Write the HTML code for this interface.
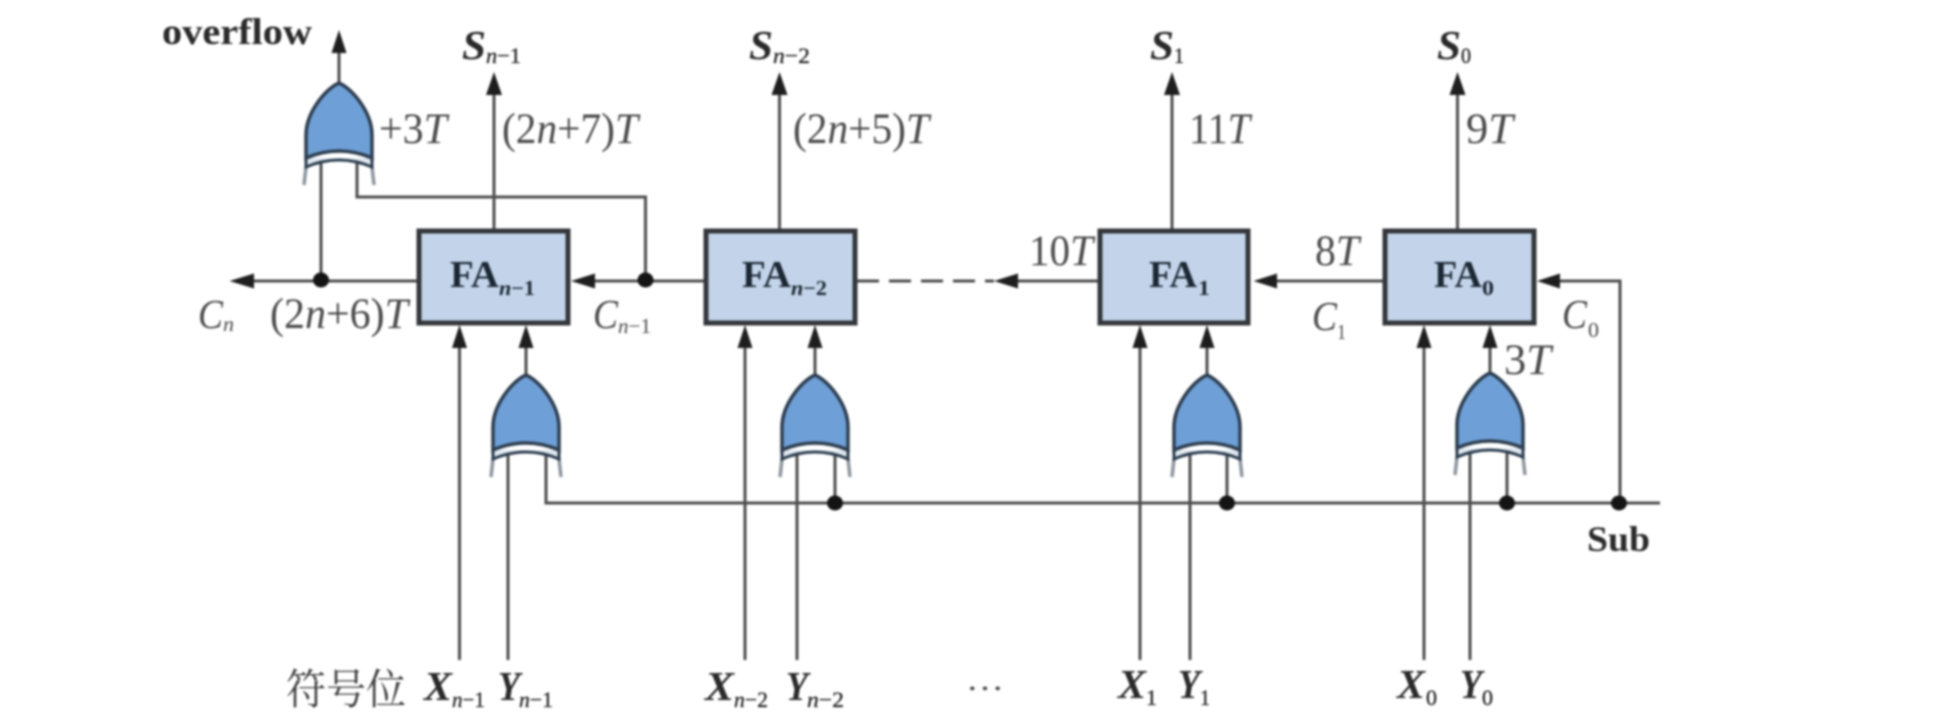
<!DOCTYPE html>
<html><head><meta charset="utf-8">
<style>
html,body{margin:0;padding:0;background:#fff;width:1948px;height:723px;overflow:hidden}
svg{display:block;filter:blur(1px)}
text{font-family:"Liberation Serif","Noto Serif CJK SC",serif}
.l{font-size:43px;fill:#4a4a4a}
.li{font-size:41px;fill:#4a4a4a;font-style:italic}
.s{font-size:21px;fill:#4a4a4a}
.b{font-size:38px;fill:#1c2733;font-weight:bold}
.bi{font-size:41px;fill:#2a2a2a;font-weight:bold;font-style:italic}
.bs{font-size:22px;fill:#222;stroke:#222;stroke-width:.3}
.w{fill:none;stroke:#4d4d4d;stroke-width:3}
.a{fill:#1e1e1e}
.box{fill:#c3d4ea;stroke:#33373b;stroke-width:5}
</style></head><body>
<svg width="1948" height="723" viewBox="0 0 1948 723" xmlns="http://www.w3.org/2000/svg">
<defs>
<g id="gate">
<path d="M-33,84 L-35,102 M33,84 L35,102" fill="none" stroke="#8d969f" stroke-width="3.5"/>
<path d="M-33,75 L-33,84 Q0,70 33,84 L33,75" fill="#dfe7ef" stroke="#2d3e50" stroke-width="3"/>
<path d="M0,0 C14,6 33,30 33,52 L33,75 Q0,61 -33,75 L-33,52 C-33,30 -14,6 0,0Z" fill="#6e9fd6" stroke="#2d3e50" stroke-width="3.5"/>
</g>
</defs>

<!-- wires -->
<path class="w" d="M339,83V45M321,160V281M357,160V197H645.5V281"/>
<path class="w" d="M419,281H245M706,281H585M494,230V85M779.5,230V85M1172,230V85M1457.5,230V85"/>
<path class="w" d="M1100,281H1010M1385,281H1268M1620,503V281H1550"/>
<path d="M857,281H994" fill="none" stroke="#4d4d4d" stroke-width="3" stroke-dasharray="22 10"/>
<path class="w" d="M546,453V503H1660"/>
<path class="w" d="M459.5,660V340M745,660V340M1140,660V340M1424,660V340"/>
<path class="w" d="M508,660V453M797,660V453M1190,660V453M1470,660V453"/>
<path class="w" d="M835,453V503M1227,453V503M1507,453V503"/>
<path class="w" d="M526,375V340M815,375V340M1207,375V340M1490,375V340"/>

<!-- gates -->
<use href="#gate" transform="translate(339,83)"/>
<use href="#gate" transform="translate(526,375)"/>
<use href="#gate" transform="translate(815,375)"/>
<use href="#gate" transform="translate(1207,375)"/>
<use href="#gate" transform="translate(1490,373)"/>

<!-- boxes -->
<rect class="box" x="419" y="231" width="149" height="92"/>
<rect class="box" x="706" y="231" width="149" height="92"/>
<rect class="box" x="1100" y="231" width="148" height="92"/>
<rect class="box" x="1385" y="231" width="149" height="92"/>

<!-- arrowheads up -->
<path class="a" d="M339,30L346.5,53H331.5ZM494,72L502,95H486ZM779.5,72L787.5,95H771.5ZM1172,72L1180,95H1164ZM1457.5,72L1465.5,95H1449.5Z"/>
<path class="a" d="M459.5,325L467,348H452ZM526,325L533.5,348H518.5ZM745,325L752.5,348H737.5ZM815,325L822.5,348H807.5ZM1140,325L1147.5,348H1132.5ZM1207,325L1214.5,348H1199.5ZM1424,325L1431.5,348H1416.5ZM1490,325L1497.5,348H1482.5Z"/>
<!-- arrowheads left -->
<path class="a" d="M229.5,281L254,273.5V288.5ZM571,281L595,273.5V288.5ZM994,281L1018,273.5V288.5ZM1253.5,281L1277,273.5V288.5ZM1537,281L1560,273.5V288.5Z"/>
<!-- dots -->
<g fill="#141414">
<ellipse cx="321" cy="280" rx="8" ry="7.5"/>
<ellipse cx="645.5" cy="280" rx="8" ry="7.5"/>
<ellipse cx="835" cy="503" rx="8" ry="7.5"/>
<ellipse cx="1227" cy="503" rx="8" ry="7.5"/>
<ellipse cx="1507" cy="503" rx="8" ry="7.5"/>
<ellipse cx="1619" cy="503" rx="8" ry="7.5"/>
</g>

<!-- top labels -->
<text x="162" y="44" font-size="37" font-weight="bold" fill="#2a2a2a" textLength="150" lengthAdjust="spacingAndGlyphs">overflow</text>
<text class="bi" x="462" y="59" textLength="24" lengthAdjust="spacingAndGlyphs">S</text>
<text class="bs" x="486" y="63" textLength="35" lengthAdjust="spacingAndGlyphs"><tspan font-style="italic">n</tspan>−1</text>
<text class="bi" x="749" y="59" textLength="24" lengthAdjust="spacingAndGlyphs">S</text>
<text class="bs" x="773" y="63" textLength="37" lengthAdjust="spacingAndGlyphs"><tspan font-style="italic">n</tspan>−2</text>
<text class="bi" x="1150" y="59" textLength="24" lengthAdjust="spacingAndGlyphs">S</text>
<text class="bs" x="1174" y="63" textLength="10" lengthAdjust="spacingAndGlyphs">1</text>
<text class="bi" x="1437" y="59" textLength="24" lengthAdjust="spacingAndGlyphs">S</text>
<text class="bs" x="1461" y="63" textLength="10" lengthAdjust="spacingAndGlyphs">0</text>

<!-- timing labels -->
<text class="l" x="379" y="143" textLength="68" lengthAdjust="spacingAndGlyphs">+3<tspan font-style="italic">T</tspan></text>
<text class="l" x="502" y="143" textLength="136" lengthAdjust="spacingAndGlyphs">(2<tspan font-style="italic">n</tspan>+7)<tspan font-style="italic">T</tspan></text>
<text class="l" x="793" y="143" textLength="136" lengthAdjust="spacingAndGlyphs">(2<tspan font-style="italic">n</tspan>+5)<tspan font-style="italic">T</tspan></text>
<text class="l" x="1189" y="143" textLength="61" lengthAdjust="spacingAndGlyphs">11<tspan font-style="italic">T</tspan></text>
<text class="l" x="1466" y="143" textLength="47" lengthAdjust="spacingAndGlyphs">9<tspan font-style="italic">T</tspan></text>
<text class="l" x="1029" y="265" textLength="64" lengthAdjust="spacingAndGlyphs">10<tspan font-style="italic">T</tspan></text>
<text class="l" x="1315" y="265" textLength="44" lengthAdjust="spacingAndGlyphs">8<tspan font-style="italic">T</tspan></text>
<text class="l" x="270" y="328" textLength="138" lengthAdjust="spacingAndGlyphs">(2<tspan font-style="italic">n</tspan>+6)<tspan font-style="italic">T</tspan></text>
<text class="l" x="1504" y="374" textLength="47" lengthAdjust="spacingAndGlyphs">3<tspan font-style="italic">T</tspan></text>

<!-- carry labels -->
<text class="li" x="198" y="328" textLength="25" lengthAdjust="spacingAndGlyphs">C</text>
<text class="s" x="223" y="331" font-style="italic" textLength="11" lengthAdjust="spacingAndGlyphs">n</text>
<text class="li" x="593" y="328" textLength="25" lengthAdjust="spacingAndGlyphs">C</text>
<text class="s" x="618" y="333" textLength="33" lengthAdjust="spacingAndGlyphs"><tspan font-style="italic">n</tspan>−1</text>
<text class="li" x="1312" y="330" textLength="25" lengthAdjust="spacingAndGlyphs">C</text>
<text class="s" x="1337" y="339" textLength="9" lengthAdjust="spacingAndGlyphs">1</text>
<text class="li" x="1562" y="328" textLength="25" lengthAdjust="spacingAndGlyphs">C</text>
<text class="s" x="1588" y="337" textLength="11" lengthAdjust="spacingAndGlyphs">0</text>

<!-- FA labels -->
<text class="b" x="450" y="287" textLength="49" lengthAdjust="spacingAndGlyphs">FA</text>
<text class="s" x="499" y="295" font-weight="bold" style="fill:#1c2733" textLength="36" lengthAdjust="spacingAndGlyphs"><tspan font-style="italic">n</tspan>−1</text>
<text class="b" x="742" y="287" textLength="49" lengthAdjust="spacingAndGlyphs">FA</text>
<text class="s" x="791" y="295" font-weight="bold" style="fill:#1c2733" textLength="36" lengthAdjust="spacingAndGlyphs"><tspan font-style="italic">n</tspan>−2</text>
<text class="b" x="1149" y="287" textLength="48" lengthAdjust="spacingAndGlyphs">FA</text>
<text class="s" x="1198" y="295" font-weight="bold" style="fill:#1c2733" textLength="12" lengthAdjust="spacingAndGlyphs">1</text>
<text class="b" x="1434" y="287" textLength="48" lengthAdjust="spacingAndGlyphs">FA</text>
<text class="s" x="1482" y="295" font-weight="bold" style="fill:#1c2733" textLength="12" lengthAdjust="spacingAndGlyphs">0</text>

<!-- Sub -->
<text x="1587" y="551" font-size="36" font-weight="bold" fill="#2a2a2a" textLength="63" lengthAdjust="spacingAndGlyphs">Sub</text>

<!-- bottom labels -->
<text x="286" y="704" font-size="42" fill="#3f3f3f" font-family="'Noto Serif CJK SC',serif" textLength="120" lengthAdjust="spacingAndGlyphs">符号位</text>
<text class="bi" x="424" y="700" textLength="28" lengthAdjust="spacingAndGlyphs">X</text>
<text class="bs" x="452" y="707" textLength="33" lengthAdjust="spacingAndGlyphs"><tspan font-style="italic">n</tspan>−1</text>
<text class="bi" x="498" y="700" textLength="22" lengthAdjust="spacingAndGlyphs">Y</text>
<text class="bs" x="519" y="707" textLength="34" lengthAdjust="spacingAndGlyphs"><tspan font-style="italic">n</tspan>−1</text>
<text class="bi" x="705" y="700" textLength="29" lengthAdjust="spacingAndGlyphs">X</text>
<text class="bs" x="734" y="707" textLength="34" lengthAdjust="spacingAndGlyphs"><tspan font-style="italic">n</tspan>−2</text>
<text class="bi" x="786" y="700" textLength="22" lengthAdjust="spacingAndGlyphs">Y</text>
<text class="bs" x="807" y="707" textLength="37" lengthAdjust="spacingAndGlyphs"><tspan font-style="italic">n</tspan>−2</text>
<text x="966" y="690" font-size="32" fill="#444" textLength="38" lengthAdjust="spacingAndGlyphs">…</text>
<text class="bi" x="1118" y="698" textLength="28" lengthAdjust="spacingAndGlyphs">X</text>
<text class="bs" x="1146" y="705" textLength="11" lengthAdjust="spacingAndGlyphs">1</text>
<text class="bi" x="1178" y="698" textLength="22" lengthAdjust="spacingAndGlyphs">Y</text>
<text class="bs" x="1200" y="705" textLength="10" lengthAdjust="spacingAndGlyphs">1</text>
<text class="bi" x="1397" y="698" textLength="28" lengthAdjust="spacingAndGlyphs">X</text>
<text class="bs" x="1426" y="705" textLength="11" lengthAdjust="spacingAndGlyphs">0</text>
<text class="bi" x="1460" y="698" textLength="22" lengthAdjust="spacingAndGlyphs">Y</text>
<text class="bs" x="1482" y="705" textLength="11" lengthAdjust="spacingAndGlyphs">0</text>
</svg>
</body></html>
